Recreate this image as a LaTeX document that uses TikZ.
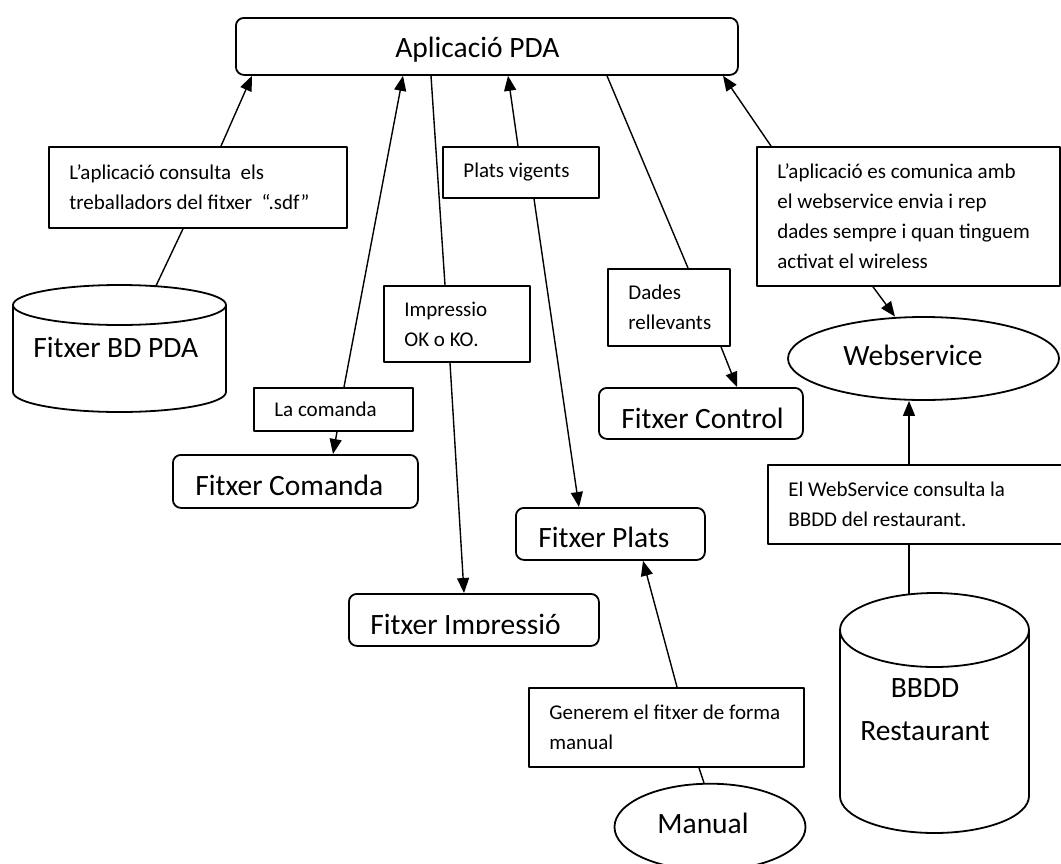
\documentclass[tikz,border=0pt]{standalone}
\usepackage{fontspec}
\setmainfont{Carlito}
\usetikzlibrary{arrows.meta,calc,shapes.geometric}

% database drum: centre x, top y, bottom y, half width, cap half height (all in px units)
\newcommand\dbcyl[5]{%
  \draw[frame] (#1-#4,#2+#5) -- (#1-#4,#3-#5)
    arc[start angle=180,end angle=360,x radius={#4*0.5pt},y radius={#5*0.5pt}]
    -- (#1+#4,#2+#5)
    arc[start angle=0,end angle=360,x radius={#4*0.5pt},y radius={#5*0.5pt}];}

\begin{document}
\begin{tikzpicture}[x=0.5pt,y=-0.5pt,
  line join=round,
  frame/.style={draw, line width=0.9pt},
  note/.style={frame, rectangle, anchor=north west, inner sep=0pt},
  notetext/.style={anchor=west, inner sep=0pt, align=left,
    font=\fontsize{10.5}{15}\selectfont},
  filebox/.style={frame, rectangle, rounded corners=4pt, anchor=north west, inner sep=0pt},
  bigtext/.style={inner sep=0pt, font=\fontsize{14.75}{21.5}\selectfont},
  oval/.style={frame, ellipse, inner sep=0pt},
  hold/.style={inner sep=0pt},
  link/.style={line width=0.7pt},
  flow/.style={link, -{Triangle[length=7.5pt,width=6pt]}},
]
\clip (0,0) rectangle (1061,863);

% ---- main application ----
\node[filebox, minimum width=251pt, minimum height=28.5pt] (app) at (235,17) {};
\node[bigtext, anchor=base west] (appT) at (395,57) {Aplicació PDA};

% ---- note boxes ----
\node[note, minimum width=149pt, minimum height=40.5pt] (cons) at (48,146) {};
\node[notetext] (consT) at ([xshift=10.5pt]cons.west)
  {L’aplicació consulta\ \ els\\treballadors del fitxer\ \ “.sdf”};

\node[note, minimum width=78pt, minimum height=25.5pt] (plats) at (442,146) {};
\node[notetext] (platsT) at ([xshift=10.5pt]plats.west) {Plats vigents};

\node[note, minimum width=151.5pt, minimum height=69.5pt] (wire) at (756,146) {};
\node[notetext] (wireT) at ([xshift=10.5pt]wire.west)
  {L’aplicació es comunica amb\\el webservice envia i rep\\dades sempre i quan tinguem\\activat el wireless};

\node[note, minimum width=61pt, minimum height=38.5pt] (dades) at (607,268) {};
\node[notetext] (dadesT) at ([xshift=10.5pt]dades.west) {Dades\\rellevants};

\node[note, minimum width=73pt, minimum height=38pt] (impr) at (383,285) {};
\node[notetext] (imprT) at ([xshift=10.5pt]impr.west) {Impressio\\OK o KO.};

\node[note, minimum width=79.5pt, minimum height=21.5pt] (coman) at (253,387) {};
\node[notetext] (comanT) at ([xshift=10.5pt]coman.west) {La comanda};

\node[note, minimum width=150.5pt, minimum height=39.5pt] (wsq) at (767,464) {};
\node[notetext] (wsqT) at ([xshift=10.5pt]wsq.west)
  {El WebService consulta la\\BBDD del restaurant.};

\node[note, minimum width=137.5pt, minimum height=39.5pt] (gen) at (528,687) {};
\node[notetext] (genT) at ([xshift=10.5pt]gen.west)
  {Generem el fitxer de forma\\manual};

% ---- files ----
\node[filebox, minimum width=102pt, minimum height=25.5pt] (fctl) at (598,387) {};
\node[bigtext, anchor=base west] (fctlT) at (621,428) {Fitxer Control};

\node[filebox, minimum width=122.5pt, minimum height=26.5pt] (fcom) at (172,454) {};
\node[bigtext, anchor=base west] (fcomT) at (195,495) {Fitxer Comanda};

\node[filebox, minimum width=94.5pt, minimum height=26pt] (fplats) at (515,507) {};
\node[bigtext, anchor=base west] (fplatsT) at (538,547) {Fitxer Plats};

\node[filebox, minimum width=125pt, minimum height=26pt] (fimp) at (348,593) {};
\begin{scope}
  \clip (340,585) rectangle (610,633);
  \node[bigtext, anchor=base west] (fimpT) at (370,634) {Fitxer Impressió};
\end{scope}

% ---- ovals ----
\node[oval, minimum width=135.5pt, minimum height=41.5pt] (ws) at (923.5,358.5) {};
\node[bigtext, anchor=base west] (wsT) at (843,365) {Webservice};

\node[oval, minimum width=95.5pt, minimum height=43.3pt] (man) at (710,827) {};
\node[bigtext, anchor=base west] (manT) at (657,833) {Manual};

% ---- databases ----
\dbcyl{119.5}{285}{412}{106.5}{20}
\node[hold, minimum width=106.5pt, minimum height=63.5pt] (bdpda) at (119.5,348.5) {};
\node[bigtext, anchor=base west] (bdpdaT) at (33,357) {Fitxer BD PDA};

\dbcyl{934.5}{593}{833}{94.5}{37}
\node[hold, minimum width=94.5pt, minimum height=120pt] (bbdd) at (934.5,713) {};
\node[bigtext, align=center] (bbddT) at (925,710) {BBDD\\Restaurant};

% ---- connectors ----
\draw[flow] ([xshift=86.5pt]cons.north west) -- ([xshift=8.5pt]app.south west);
\draw[link] ([xshift=18.25pt,yshift=-0.6pt]bdpda.north) -- ([xshift=67.5pt]cons.south west);

\draw[flow] ([xshift=45.5pt]coman.north west) -- ([xshift=84pt]app.south west);
\draw[flow] ([xshift=42pt]coman.south west) -- ([xshift=80.5pt]fcom.north west);

\draw[link] ([xshift=98pt]app.south west) -- ([xshift=31pt]impr.north west);
\draw[flow] ([xshift=33.5pt]impr.south west) -- ([xshift=58pt]fimp.north west);

\draw[flow] ([xshift=38pt]plats.north west) -- ([xshift=136.5pt]app.south west);
\draw[flow] ([xshift=46pt]plats.south west) -- ([xshift=32pt]fplats.north west);

\draw[link] ([xshift=186pt]app.south west) -- ([xshift=40.5pt]dades.north west);
\draw[flow] ([xshift=57pt]dades.south west) -- ([xshift=69.5pt]fctl.north west);

\draw[flow] ([xshift=7.5pt]wire.north west) -- ([xshift=244pt]app.south west);
\draw[flow] ([xshift=58.5pt]wire.south west) -- ([xshift=-14.25pt,yshift=-0.25pt]ws.north);

\draw[flow] ([xshift=71pt]wsq.north west) -- ([xshift=-7.25pt]ws.south);
\draw[link] ([xshift=-12.75pt,yshift=-0.7pt]bbdd.north) -- ([xshift=71pt]wsq.south west);

\draw[flow] ([xshift=74.5pt]gen.north west) -- ([xshift=64pt]fplats.south west);
\draw[link] ([xshift=-3pt]man.north) -- ([xshift=85.5pt]gen.south west);
\end{tikzpicture}
\end{document}
